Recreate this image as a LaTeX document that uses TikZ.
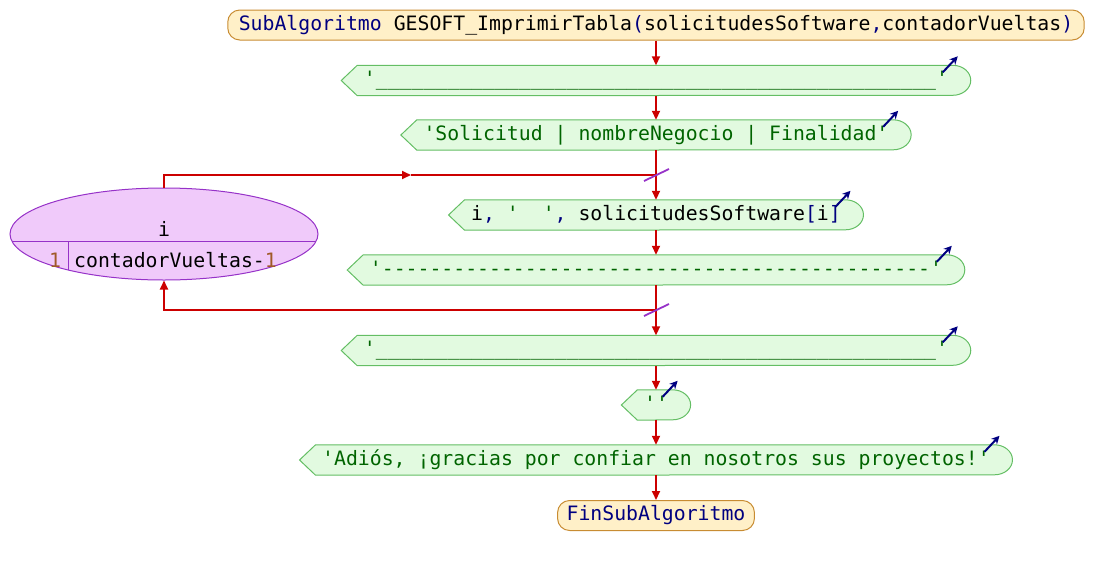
\documentclass[tikz,border=0pt]{standalone}
\usepackage{fontspec}
\setmonofont{DejaVu Sans Mono}
\usetikzlibrary{arrows.meta,shapes.geometric,backgrounds}

\definecolor{verdefondo}{RGB}{226,250,224}
\definecolor{verdeborde}{RGB}{100,190,100}
\definecolor{verdetexto}{RGB}{0,100,0}
\definecolor{azulclave}{RGB}{0,0,128}
\definecolor{rojoflecha}{RGB}{204,0,0}
\definecolor{fondoinicio}{RGB}{255,240,200}
\definecolor{bordeinicio}{RGB}{200,140,50}
\definecolor{violetafondo}{RGB}{240,202,250}
\definecolor{violetaborde}{RGB}{150,50,200}
\definecolor{marronnum}{RGB}{160,90,40}

\newcommand{\clave}[1]{\textcolor{azulclave}{#1}}
\newcommand{\cadena}[1]{\textcolor{verdetexto}{#1}}
\newcommand{\numero}[1]{\textcolor{marronnum}{#1}}
\newcommand{\rayas}[2]{\foreach \k in {1,...,#1}{#2}}

\begin{document}
\begin{tikzpicture}
        [x=1pt,y=-1pt,
        every node/.style={font=\ttfamily\fontsize{19.8pt}{24pt}\selectfont,inner ysep=0pt,minimum height=30pt,text height=15pt,text depth=4.5pt},
        limitedecorate/.style={shape=rectangle,rounded corners=12pt,draw=bordeinicio,fill=fondoinicio,line width=1pt,inner xsep=11pt},
        salidadecorate/.style={shape=rectangle,inner xsep=22.5pt},
        contornodecorate/.style={draw=verdeborde,fill=verdefondo,line width=1pt},
        lazodecorate/.style={shape=ellipse,draw=violetaborde,fill=violetafondo,line width=1pt,minimum width=308pt,minimum height=92pt,inner sep=0pt,
          path picture={
            \draw[violetaborde,line width=1pt] ([yshift=-7.5pt]path picture bounding box.west) -- ([yshift=-7.5pt]path picture bounding box.east);
            \draw[violetaborde,line width=1pt] ([xshift=58pt,yshift=-7.5pt]path picture bounding box.west) -- ([xshift=58pt]path picture bounding box.south west);}},
        textodecorate/.style={inner sep=0pt,minimum height=0pt},
        arrowdecorate/.style={->,>={Triangle[length=9pt,width=8pt]},draw=rojoflecha,line width=1.8pt},
        linedecorate/.style={-,draw=rojoflecha,line width=1.8pt},
        editdecorate/.style={-{Stealth[length=8pt,width=8pt]},draw=azulclave,line width=2pt},
        crucedecorate/.style={draw=violetaborde,line width=1.8pt}]
        \useasboundingbox (0,0) rectangle (1110,565);
        %% nodes or vertices
        \node (inicio) at (656,25) [limitedecorate] {\clave{SubAlgoritmo} GESOFT\_ImprimirTabla\clave{(}solicitudesSoftware\clave{,}contadorVueltas\clave{)}};
        \node (fin) at (656,515.5) [limitedecorate,inner xsep=9pt] {\clave{FinSubAlgoritmo}};

        \foreach \nodename/\y/\texto in {s1/80.5/{\cadena{'\rayas{47}{\_}'}},
          s2/135/{\cadena{'Solicitud | nombreNegocio | Finalidad'}},
          s3/215/{i\clave{,} \cadena{'\ \ '}\clave{,} solicitudesSoftware\clave{[}i\clave{]}},
          s4/270/{\cadena{'\rayas{46}{\mbox{-}}'}},
          s5/350.5/{\cadena{'\rayas{47}{\_}'}},
          s6/405/{\cadena{''}},
          s7/460/{\cadena{'Adiós, ¡gracias por confiar en nosotros sus proyectos!'}}}
        {
          \node (\nodename) at (656,\y) [salidadecorate] {\texto};
        }
        \begin{scope}[on background layer]
          \foreach \nodename in {s1,s2,s3,s4,s5,s6,s7}
          {
            \filldraw[contornodecorate] (\nodename.west) -- ([xshift=16pt]\nodename.north west) -- ([xshift=-18pt]\nodename.north east)
              arc[start angle=90,end angle=-90,x radius=18pt,y radius=15pt] -- ([xshift=16pt]\nodename.south west) -- cycle;
          }
        \end{scope}

        \node (para) at (164,234) [lazodecorate] {};
        \node (var) at (164,230.75) [textodecorate] {i};
        \node (desde) at (55,261.75) [textodecorate] {\numero{1}};
        \node (hasta) at (74,261.75) [textodecorate,anchor=west] {contadorVueltas-\numero{1}};

        \coordinate (cruce1) at (656,175);
        \coordinate (cruce2) at (656,310);
        \coordinate (medio) at (411,175);
        %% edges or lines
        \path
        \foreach \startnode/\endnode in {inicio/s1, s1/s2, s2/s3, s3/s4, s4/s5, s5/s6, s6/s7, s7/fin}
        {
          (\startnode) edge[arrowdecorate] (\endnode)
        };
        \draw[arrowdecorate] (para.north) |- (medio);
        \draw[linedecorate] (medio) -- (cruce1);
        \draw[arrowdecorate] (cruce2) -| (para.south);
        \foreach \c in {cruce1,cruce2}
          \draw[crucedecorate] ([xshift=-12pt,yshift=-6pt]\c) -- ([xshift=13pt,yshift=6pt]\c);
        \foreach \nodename in {s1,s2,s3,s4,s5,s6,s7}
          \draw[editdecorate] ([xshift=-28pt,yshift=-7pt]\nodename.north east) -- ([xshift=-13pt,yshift=9pt]\nodename.north east);
      \end{tikzpicture}
\end{document}
